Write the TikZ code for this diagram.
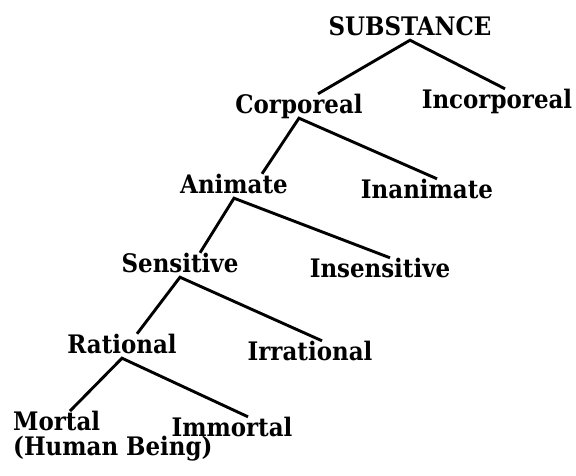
\documentclass[tikz,border=0pt]{standalone}
\usepackage{fontspec}
\setmainfont{DejaVu Serif Condensed}
\begin{document}
\begin{tikzpicture}[x=1pt, y=-1pt,
        term/.style={font=\fontsize{25.5}{24.5}\selectfont\bfseries, inner sep=0pt, text height=19pt, text depth=5pt, anchor=base},
        branch/.style={draw, line width=2.9pt}]
        \useasboundingbox (0,0) rectangle (576,475);

        \node [term] (substance) at (410,35) {SUBSTANCE};
        \node [term] (corporeal) at (299,113) {Corporeal};
        \node [term] (incorporeal) at (497,108) {Incorporeal};
        \node [term] (animate) at (234,193) {Animate};
        \node [term] (inanimate) at (427,198) {Inanimate};
        \node [term] (sensitive) at (180,272) {Sensitive};
        \node [term] (insensitive) at (380,277) {Insensitive};
        \node [term] (rational) at (122,353) {Rational};
        \node [term] (irrational) at (310,360) {Irrational};
        \node [font=\fontsize{25.5}{24.5}\selectfont\bfseries, inner sep=0pt, anchor=north west, align=left] (mortal) at (13,411) {Mortal\\(Human Being)};
        \node [term] (immortal) at (232,436) {Immortal};

        \draw [branch] ([xshift=19pt]corporeal.north) -- (substance.south) -- ([xshift=8pt]incorporeal.north);
        \draw [branch] ([xshift=28pt]animate.north) -- (corporeal.south) -- ([xshift=10pt]inanimate.north);
        \draw [branch] ([xshift=20pt]sensitive.north) -- (animate.south) -- ([xshift=10pt]insensitive.north);
        \draw [branch] ([xshift=15pt]rational.north) -- (sensitive.south) -- ([xshift=12pt]irrational.north);
        \draw [branch] ([xshift=57pt]mortal.north west) -- (rational.south) -- ([xshift=16pt]immortal.north);
    \end{tikzpicture}
\end{document}
